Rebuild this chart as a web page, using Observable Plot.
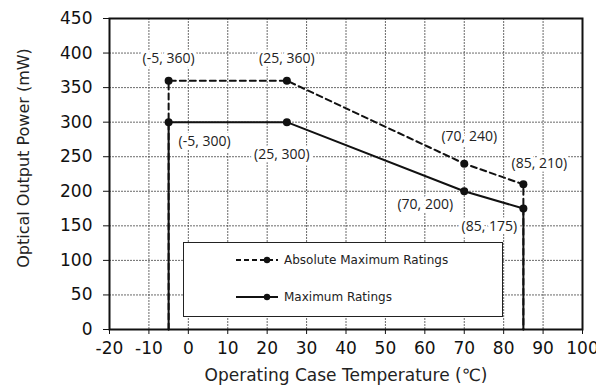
<!DOCTYPE html>
<html><head><meta charset="utf-8">
<script src="https://cdn.jsdelivr.net/npm/d3@7"></script>
<script src="https://cdn.jsdelivr.net/npm/@observablehq/plot@0.6"></script>
<style>
body{margin:0;background:#fff}
#wrap{position:relative;width:596px;height:392px}
#legend{position:absolute;left:183px;top:242px;width:320px;height:75px;border:1.3px solid #222;background:#fff;box-sizing:border-box;font-family:"DejaVu Sans",Verdana,sans-serif;font-size:12px;color:#222}
.row{position:absolute;left:51px;display:flex;align-items:center;gap:5px}
</style></head><body><div id="wrap"></div>
<script>
// data
const absTemp = [-5, -5, 25, 70, 85, 85];
const absPower = [0, 360, 360, 240, 210, 0];
const maxTemp = [-5, -5, 25, 70, 85, 85];
const maxPower = [0, 300, 300, 200, 175, 0];
const markedIdx = [1, 2, 3, 4];
const xTicks = [-20, -10, 0, 10, 20, 30, 40, 50, 60, 70, 80, 90, 100];
const yTicks = [0, 50, 100, 150, 200, 250, 300, 350, 400, 450];
const seriesNames = ["Absolute Maximum Ratings", "Maximum Ratings"];
const xTitle = "Operating Case Temperature (\u2103)";
const yTitle = "Optical Output Power (mW)";

// layout (label nudges, not data)
const absNudge = [[0, -22], [0, -22], [5, -27], [16, -21]];
const maxNudge = [[36, 19], [-5, 32], [-39, 13], [-34, 18]];

const absRows = absTemp.map((t, i) => ({t, p: absPower[i]}));
const maxRows = maxTemp.map((t, i) => ({t, p: maxPower[i]}));
const fmt = d => `(${d.t}, ${d.p})`;

const labelMarks = [];
markedIdx.forEach((idx, k) => {
  labelMarks.push(Plot.text([absRows[idx]], {x: "t", y: "p", text: fmt, dx: absNudge[k][0], dy: absNudge[k][1],
    fontFamily: "'Open Sans', sans-serif", fontSize: 14, fill: "#222", stroke: "white", strokeWidth: 7}));
  labelMarks.push(Plot.text([maxRows[idx]], {x: "t", y: "p", text: fmt, dx: maxNudge[k][0], dy: maxNudge[k][1],
    fontFamily: "'Open Sans', sans-serif", fontSize: 14, fill: "#222", stroke: "white", strokeWidth: 7}));
});

const chart = Plot.plot({
  width: 596, height: 392,
  marginLeft: 109, marginRight: 14, marginTop: 18, marginBottom: 63,
  style: {fontFamily: "'DejaVu Sans', Verdana, sans-serif", fontSize: "17px", color: "#111", background: "white"},
  x: {domain: [-20, 100]},
  y: {domain: [0, 450]},
  marks: [
    Plot.gridX(xTicks, {stroke: "#444", strokeOpacity: 1, strokeWidth: 0.8, strokeDasharray: "2,1"}),
    Plot.gridY(yTicks, {stroke: "#444", strokeOpacity: 1, strokeWidth: 0.8, strokeDasharray: "2,1"}),
    Plot.axisX(xTicks, {tickSize: 5, tickPadding: 7, label: null, fontSize: 17, tickFormat: d => String(d)}),
    Plot.axisY(yTicks, {tickSize: 6, tickPadding: 11, label: null, fontSize: 17, tickFormat: d => String(d)}),
    Plot.text([xTitle], {frameAnchor: "bottom", textAnchor: "middle", dy: 51, fontSize: 17, fill: "#222"}),
    Plot.text([yTitle], {frameAnchor: "left", textAnchor: "middle", dx: -86, dy: -16, rotate: -90, fontSize: 16, fill: "#222"}),
    ...labelMarks,
    Plot.line(absRows, {x: "t", y: "p", stroke: "#111", strokeWidth: 2, strokeDasharray: "6,4"}),
    Plot.line(maxRows, {x: "t", y: "p", stroke: "#111", strokeWidth: 2}),
    Plot.dot(markedIdx.map(i => absRows[i]), {x: "t", y: "p", r: 4, fill: "#111"}),
    Plot.dot(markedIdx.map(i => maxRows[i]), {x: "t", y: "p", r: 4, fill: "#111"}),
    Plot.frame({stroke: "#111", strokeWidth: 2})
  ]
});
const wrap = document.getElementById("wrap");
wrap.appendChild(chart);

const leg = document.createElement("div");
leg.id = "legend";
const rowsHtml = seriesNames.map((name, i) => {
  const top = i === 0 ? 10 : 47;
  const dash = i === 0 ? 'stroke-dasharray="5,3"' : '';
  return `<div class="row" style="top:${top}px"><svg width="44" height="14"><line x1="1" y1="7" x2="43" y2="7" stroke="#111" stroke-width="2" ${dash}/><circle cx="32" cy="7" r="3.2" fill="#111"/></svg><span>${name}</span></div>`;
}).join("");
leg.innerHTML = rowsHtml;
wrap.appendChild(leg);
</script>
</body></html>
